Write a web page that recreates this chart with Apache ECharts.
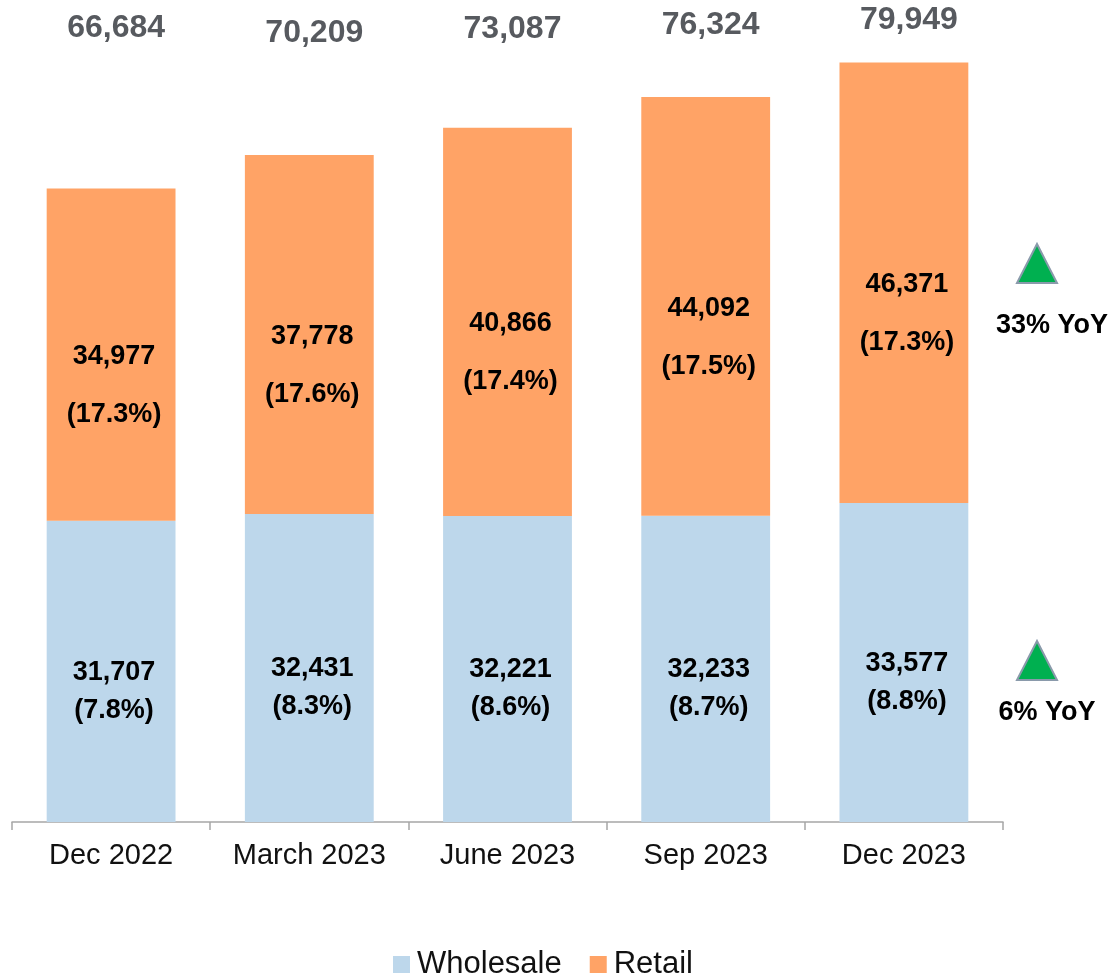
<!DOCTYPE html>
<html>
<head>
<meta charset="utf-8">
<script src="https://cdn.jsdelivr.net/npm/echarts@6/dist/echarts.min.js"></script>
<style>
  html, body { margin: 0; padding: 0; background: #fff; }
  #chart { width: 1111px; height: 975px; }
</style>
</head>
<body>
<div id="chart"></div>
<script>
// data
var categories = ['Dec 2022', 'March 2023', 'June 2023', 'Sep 2023', 'Dec 2023'];
var wholesale = [31707, 32431, 32221, 32233, 33577];
var retail = [34977, 37778, 40866, 44092, 46371];
var wholesalePct = ['7.8%', '8.3%', '8.6%', '8.7%', '8.8%'];
var retailPct = ['17.3%', '17.6%', '17.4%', '17.5%', '17.3%'];
var totals = [66684, 70209, 73087, 76324, 79949];

// vertical spot of each total (px from top), they are not all in line in the original
var totalTop = [27, 32, 28, 24, 19];

var FONT = '"Liberation Sans", Arial, sans-serif';

function fmt(v) {
  return v.toLocaleString('en-US');
}

var myChart = echarts.init(document.getElementById('chart'));

var option = {
  animation: false,
  textStyle: { fontFamily: FONT },
  grid: { left: 12, right: 108, top: 62, bottom: 153 },
  legend: {
    data: ['Wholesale', 'Retail'],
    left: 388,
    top: 944,
    itemWidth: 17,
    itemHeight: 17,
    itemGap: 28,
    icon: 'rect',
    textStyle: { fontSize: 31, color: '#111', fontFamily: FONT, padding: [0, 0, 0, 2] }
  },
  xAxis: {
    type: 'category',
    data: categories,
    axisLine: { lineStyle: { color: '#a6a6a6', width: 1.5 } },
    axisTick: { show: true, interval: 0, length: 8, lineStyle: { color: '#a6a6a6', width: 1.5 } },
    axisLabel: { interval: 0, fontSize: 29, color: '#111', margin: 19, fontFamily: FONT, hideOverlap: false }
  },
  yAxis: {
    type: 'value',
    min: 0,
    max: 80000,
    show: false,
    splitLine: { show: false }
  },
  series: [
    {
      name: 'Wholesale',
      type: 'bar',
      stack: 'all',
      barWidth: '65%',
      data: wholesale,
      itemStyle: { color: '#BDD7EB' },
      label: {
        show: true,
        position: 'inside',
        offset: [3, 20],
        formatter: function (p) {
          return fmt(p.value) + '\n(' + wholesalePct[p.dataIndex] + ')';
        },
        fontSize: 27,
        fontWeight: 'bold',
        color: '#000',
        lineHeight: 38,
        fontFamily: FONT
      }
    },
    {
      name: 'Retail',
      type: 'bar',
      stack: 'all',
      barWidth: '65%',
      data: retail,
      itemStyle: { color: '#FFA366' },
      label: {
        show: true,
        position: 'inside',
        offset: [3, 31],
        formatter: function (p) {
          return fmt(p.value) + '\n(' + retailPct[p.dataIndex] + ')';
        },
        fontSize: 27,
        fontWeight: 'bold',
        color: '#000',
        lineHeight: 58,
        fontFamily: FONT
      }
    },
    {
      // totals above the bars
      name: 'Total',
      type: 'custom',
      data: totals.map(function (v, i) { return [i, v]; }),
      renderItem: function (params, api) {
        var x = api.coord([api.value(0), 0])[0];
        return {
          type: 'text',
          x: x + 5,
          y: totalTop[params.dataIndex] + 1,
          style: {
            text: fmt(api.value(1)),
            fontSize: 32,
            fontWeight: 'bold',
            fontFamily: FONT,
            fill: '#575A5F',
            align: 'center',
            verticalAlign: 'middle'
          }
        };
      },
      clip: false,
      z: 5
    }
  ],
  graphic: [
    {
      type: 'polygon',
      shape: { points: [[1037, 244], [1057, 283], [1017, 283]] },
      style: { fill: '#00B050', stroke: '#8A9AAB', lineWidth: 2 }
    },
    {
      type: 'text',
      x: 1052, y: 326,
      style: { text: '33% YoY', fontSize: 27, fontWeight: 'bold', fontFamily: FONT, fill: '#000', align: 'center', verticalAlign: 'middle' }
    },
    {
      type: 'polygon',
      shape: { points: [[1037, 641], [1057, 680], [1017, 680]] },
      style: { fill: '#00B050', stroke: '#8A9AAB', lineWidth: 2 }
    },
    {
      type: 'text',
      x: 1047, y: 713,
      style: { text: '6% YoY', fontSize: 27, fontWeight: 'bold', fontFamily: FONT, fill: '#000', align: 'center', verticalAlign: 'middle' }
    }
  ]
};

myChart.setOption(option);
</script>
</body>
</html>
